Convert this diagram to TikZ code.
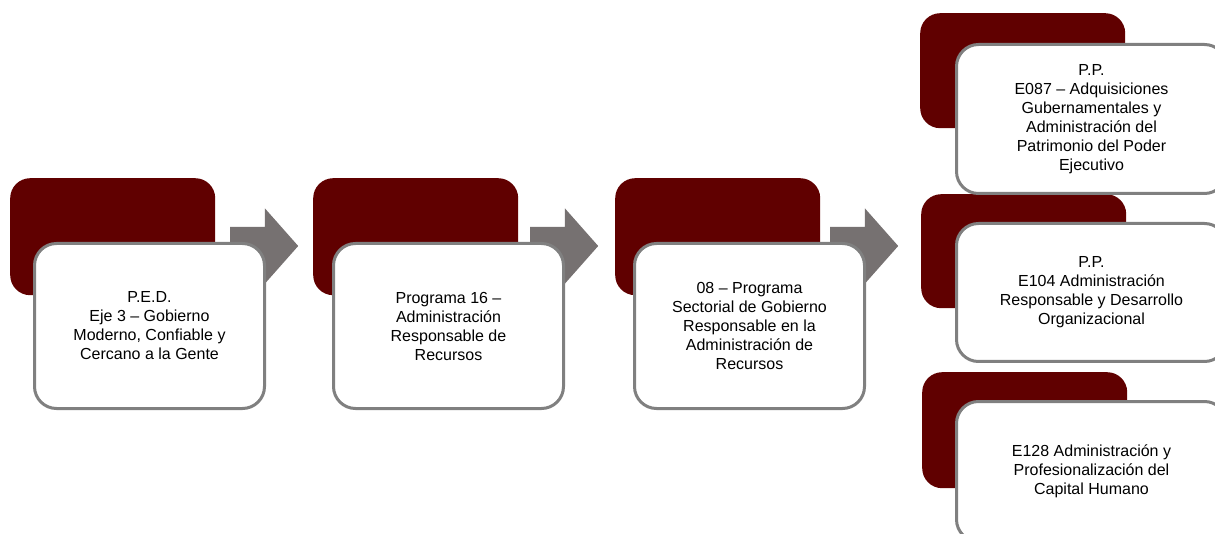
\documentclass[tikz,border=0pt]{standalone}
\usepackage{fontspec}
\setmainfont{Liberation Sans}
\usetikzlibrary{shapes.arrows}
\definecolor{boxred}{RGB}{96,0,0}
\definecolor{boxgray}{RGB}{128,128,128}
\definecolor{arrowgray}{RGB}{118,113,113}
\begin{document}
\begin{tikzpicture}[x=1pt, y=-1pt,
  back/.style={fill=boxred, rounded corners=20pt, anchor=north west, inner sep=0pt},
  front/.style={fill=white, draw=boxgray, line width=3pt, rounded corners=22pt, anchor=north west,
    align=center, inner sep=0pt, font=\fontsize{16}{19}\selectfont},
  blockarrow/.style={shape=single arrow, fill=arrowgray, anchor=tail, inner xsep=0pt, inner ysep=19pt,
    minimum height=68pt, minimum width=0pt, single arrow head extend=18.5pt, single arrow tip angle=97}]
\useasboundingbox (0,0) rectangle (1215,534);
\clip (0,0) rectangle (1215,534);

%arrows
\node[blockarrow] (firstarrow) at (230,246) {};
\node[blockarrow] (secondarrow) at (530,246) {};
\node[blockarrow] (thirdarrow) at (830,246) {};

%backs
\node[back, minimum width=205pt, minimum height=117pt] (firstback) at (10,178) {};
\node[back, minimum width=205pt, minimum height=117pt] (secondback) at (313,178) {};
\node[back, minimum width=205pt, minimum height=117pt] (thirdback) at (615,178) {};
\node[back, minimum width=205pt, minimum height=115pt] (fourthback) at (920,13) {};
\node[back, minimum width=205pt, minimum height=114pt] (fifthback) at (921,194) {};
\node[back, minimum width=205pt, minimum height=116pt] (sixthback) at (922,372) {};

%boxes
\node[front, minimum width=230pt, minimum height=165pt] (firstbox) at (33,242)
  {P.E.D.\\Eje 3 – Gobierno\\Moderno, Confiable y\\Cercano a la Gente};
\node[front, minimum width=230pt, minimum height=165pt] (secondbox) at (332,242)
  {Programa 16 –\\Administración\\Responsable de\\Recursos};
\node[front, minimum width=230pt, minimum height=165pt] (thirdbox) at (633,242)
  {08 – Programa\\Sectorial de Gobierno\\Responsable en la\\Administración de\\Recursos};
\node[front, minimum width=270pt, minimum height=149pt] (fourthbox) at (955,43)
  {P.P.\\E087 – Adquisiciones\\Gubernamentales y\\Administración del\\Patrimonio del Poder\\Ejecutivo};
\node[front, minimum width=270pt, minimum height=138pt] (fifthbox) at (955,222)
  {P.P.\\E104 Administración\\Responsable y Desarrollo\\Organizacional};
\node[front, minimum width=270pt, minimum height=140pt] (sixthbox) at (955,400)
  {E128 Administración y\\Profesionalización del\\Capital Humano};
\end{tikzpicture}
\end{document}
